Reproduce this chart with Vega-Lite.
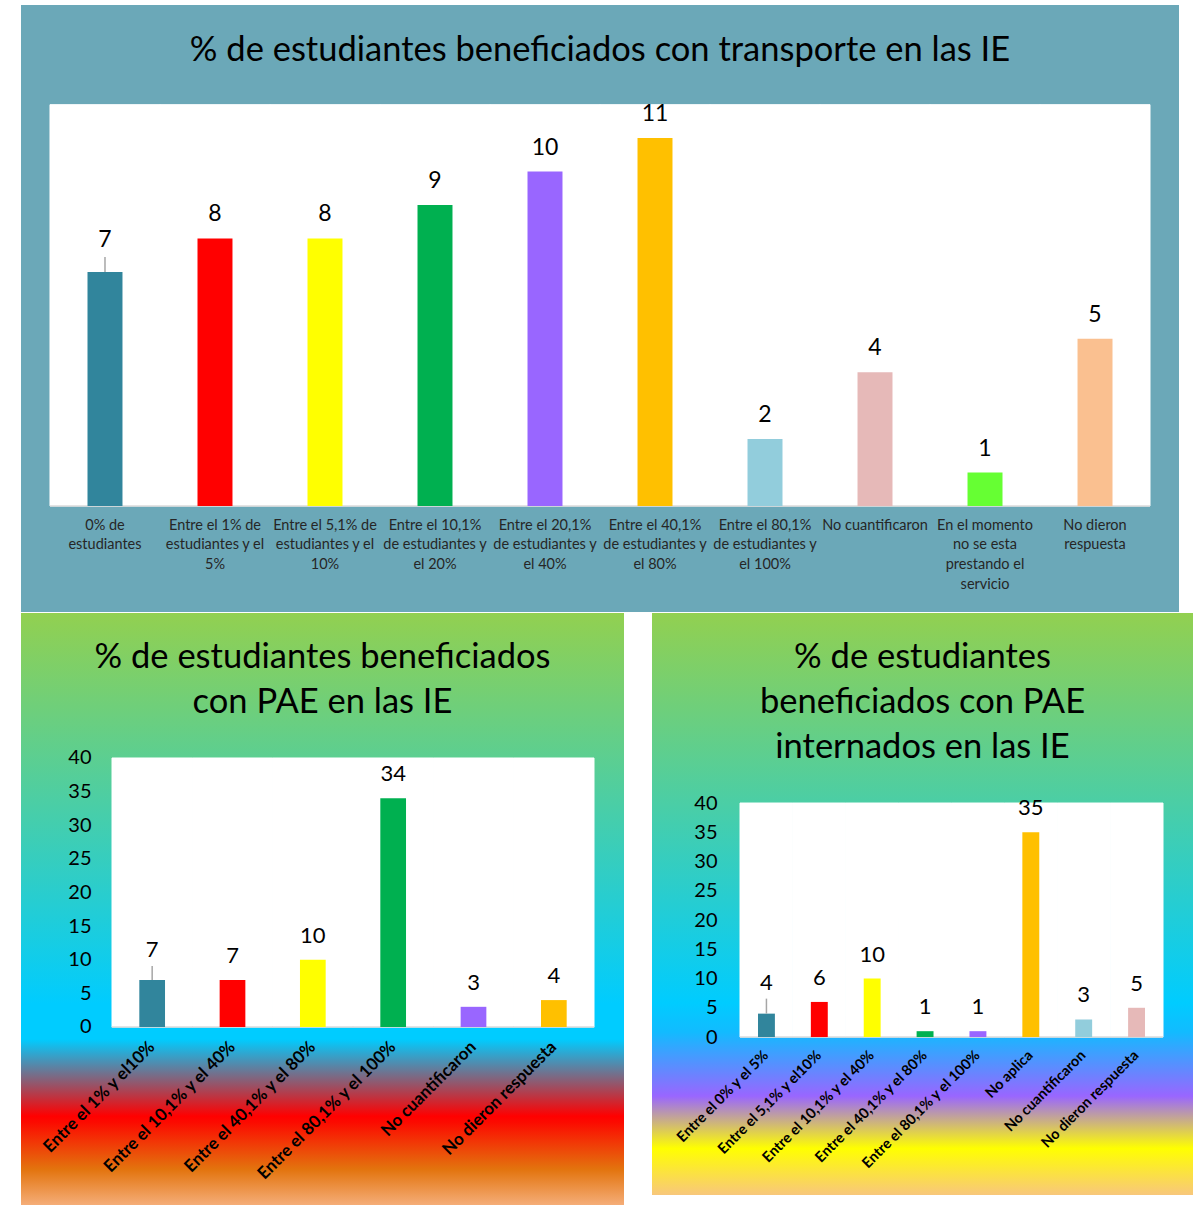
{
  "$schema": "https://vega.github.io/schema/vega-lite/v6.json",
  "background": "white",
  "padding": {"left": 21, "top": 5, "right": 0, "bottom": 0},
  "autosize": {"type": "pad"},
  "config": {"view": {"stroke": null}, "text": {"font": "Lato"}, "title": {"font": "Lato"}},
  "spacing": 1,
  "resolve": {"scale": {"x": "independent", "y": "independent", "color": "independent"}},
  "vconcat": [
    {
      "width": 1158,
      "height": 607,
      "view": {"fill": "#6ba8b8", "stroke": null},
      "title": {"text": "% de estudiantes beneficiados con transporte en las IE", "fontSize": 34.5, "fontWeight": "normal", "color": "black", "anchor": "middle", "frame": "group", "baseline": "alphabetic", "offset": -90},
      "data": {"values": [
        {"cat": "0% de estudiantes", "v": 7},
        {"cat": "Entre el 1% de estudiantes y el 5%", "v": 8},
        {"cat": "Entre el 5,1% de estudiantes y el 10%", "v": 8},
        {"cat": "Entre el 10,1% de estudiantes y el 20%", "v": 9},
        {"cat": "Entre el 20,1% de estudiantes y el 40%", "v": 10},
        {"cat": "Entre el 40,1% de estudiantes y el 80%", "v": 11},
        {"cat": "Entre el 80,1% de estudiantes y el 100%", "v": 2},
        {"cat": "No cuantificaron", "v": 4},
        {"cat": "En el momento no se esta prestando el servicio", "v": 1},
        {"cat": "No dieron respuesta", "v": 5}
      ]},
      "encoding": {
        "x": {"field": "cat", "type": "nominal",
          "scale": {"domain": ["0% de estudiantes", "Entre el 1% de estudiantes y el 5%", "Entre el 5,1% de estudiantes y el 10%", "Entre el 10,1% de estudiantes y el 20%", "Entre el 20,1% de estudiantes y el 40%", "Entre el 40,1% de estudiantes y el 80%", "Entre el 80,1% de estudiantes y el 100%", "No cuantificaron", "En el momento no se esta prestando el servicio", "No dieron respuesta"], "paddingInner": 0.682, "paddingOuter": 0.6045, "align": 0.5},
          "axis": {"title": null, "orient": "bottom", "offset": -106, "zindex": 1, "domain": false, "ticks": false, "grid": false, "labelAngle": 0, "labelAlign": "center", "labelBaseline": "top", "labelPadding": 12, "labelFont": "Lato", "labelFontSize": 14.5, "labelColor": "#262626", "labelLineHeight": 19.7, "labelLimit": 0, "labelOverlap": false,
            "labelExpr": "{'0% de estudiantes': ['0% de', 'estudiantes'], 'Entre el 1% de estudiantes y el 5%': ['Entre el 1% de', 'estudiantes y el', '5%'], 'Entre el 5,1% de estudiantes y el 10%': ['Entre el 5,1% de', 'estudiantes y el', '10%'], 'Entre el 10,1% de estudiantes y el 20%': ['Entre el 10,1%', 'de estudiantes y', 'el 20%'], 'Entre el 20,1% de estudiantes y el 40%': ['Entre el 20,1%', 'de estudiantes y', 'el 40%'], 'Entre el 40,1% de estudiantes y el 80%': ['Entre el 40,1%', 'de estudiantes y', 'el 80%'], 'Entre el 80,1% de estudiantes y el 100%': ['Entre el 80,1%', 'de estudiantes y', 'el 100%'], 'No cuantificaron': ['No cuantificaron'], 'En el momento no se esta prestando el servicio': ['En el momento', 'no se esta', 'prestando el', 'servicio'], 'No dieron respuesta': ['No dieron', 'respuesta']}[datum.label]"}},
        "y": {"field": "v", "type": "quantitative", "scale": {"domain": [-3.17, 14.98], "nice": false, "zero": false}, "axis": null}
      },
      "layer": [
        {
          "mark": {"type": "bar", "color": "white", "stroke": "white", "strokeWidth": 1, "width": {"band": 3.1447}},
          "encoding": {"y": {"datum": 0, "type": "quantitative"}, "y2": {"datum": 12}}
        },
        {
          "mark": {"type": "tick", "orient": "horizontal", "color": "#d9d9d9", "thickness": 2, "size": 110},
          "encoding": {"y": {"datum": 0, "type": "quantitative"}}
        },
        {
          "mark": {"type": "bar"},
          "encoding": {
            "color": {"field": "cat", "type": "nominal", "legend": null,
              "scale": {"domain": ["0% de estudiantes", "Entre el 1% de estudiantes y el 5%", "Entre el 5,1% de estudiantes y el 10%", "Entre el 10,1% de estudiantes y el 20%", "Entre el 20,1% de estudiantes y el 40%", "Entre el 40,1% de estudiantes y el 80%", "Entre el 80,1% de estudiantes y el 100%", "No cuantificaron", "En el momento no se esta prestando el servicio", "No dieron respuesta"],
                "range": ["#31859c", "#ff0000", "#ffff00", "#00b050", "#9966ff", "#ffc000", "#92cddc", "#e6b9b8", "#66ff33", "#fac090"]}}
          }
        },
        {
          "transform": [{"filter": "datum.cat == '0% de estudiantes'"}],
          "mark": {"type": "rule", "color": "#a6a6a6", "strokeWidth": 1.5, "y2Offset": -15},
          "encoding": {"y2": {"field": "v"}}
        },
        {
          "transform": [{"filter": "datum.cat == '0% de estudiantes'"}],
          "mark": {"type": "text", "baseline": "alphabetic", "dy": -25, "fontSize": 23, "color": "black"},
          "encoding": {"text": {"field": "v", "type": "quantitative"}}
        },
        {
          "transform": [{"filter": "datum.cat != '0% de estudiantes'"}],
          "mark": {"type": "text", "baseline": "alphabetic", "dy": -17, "fontSize": 23, "color": "black"},
          "encoding": {"text": {"field": "v", "type": "quantitative"}}
        }
      ]
    },
    {
      "spacing": 28,
      "resolve": {"scale": {"x": "independent", "y": "independent", "color": "independent"}},
      "hconcat": [
        {
          "width": 603,
          "height": 592,
          "view": {"stroke": null, "fill": {"gradient": "linear", "x1": 0, "y1": 0, "x2": 0, "y2": 1, "stops": [
            {"offset": 0, "color": "#92d050"},
            {"offset": 0.66, "color": "#00ccff"},
            {"offset": 0.72, "color": "#00ccff"},
            {"offset": 0.85, "color": "#ff0000"},
            {"offset": 0.86, "color": "#fc0a00"},
            {"offset": 0.94, "color": "#e3740e"},
            {"offset": 1, "color": "#f5ad78"}
          ]}},
          "title": {"text": ["% de estudiantes beneficiados", "con PAE en las IE"], "fontSize": 34.5, "fontWeight": "normal", "color": "black", "anchor": "middle", "frame": "group", "baseline": "alphabetic", "lineHeight": 45, "offset": -134},
          "data": {"values": [
            {"cat": "Entre el 1%  y el10%", "v": 7},
            {"cat": "Entre el 10,1%  y el 40%", "v": 7},
            {"cat": "Entre el 40,1%  y el 80%", "v": 10},
            {"cat": "Entre el 80,1%  y el 100%", "v": 34},
            {"cat": "No cuantificaron", "v": 3},
            {"cat": "No dieron respuesta", "v": 4}
          ]},
          "encoding": {
            "x": {"field": "cat", "type": "nominal",
              "scale": {"domain": ["Entre el 1%  y el10%", "Entre el 10,1%  y el 40%", "Entre el 40,1%  y el 80%", "Entre el 80,1%  y el 100%", "No cuantificaron", "No dieron respuesta"], "range": [91, 573], "paddingInner": 0.68, "paddingOuter": 0.34},
              "axis": {"title": null, "orient": "bottom", "offset": -178, "zindex": 1, "domain": false, "ticks": false, "grid": false, "labelAngle": -45, "labelAlign": "right", "labelBaseline": "middle", "labelPadding": 17, "labelFont": "Lato", "labelFontSize": 17, "labelFontWeight": "bold", "labelColor": "black", "labelLimit": 0, "labelOverlap": false}},
            "y": {"field": "v", "type": "quantitative", "scale": {"domain": [-26.47, 61.56], "nice": false, "zero": false},
              "axis": {"title": null, "offset": -91, "zindex": 1, "values": [0, 5, 10, 15, 20, 25, 30, 35, 40], "domain": false, "ticks": false, "grid": false, "labelPadding": 21, "labelFont": "Lato", "labelFontSize": 20, "labelColor": "black", "labelOverlap": false, "labelFlush": false}}
          },
          "layer": [
            {
              "mark": {"type": "bar", "color": "white", "stroke": "white", "strokeWidth": 1, "width": {"band": 3.125}},
              "encoding": {"y": {"datum": 0, "type": "quantitative"}, "y2": {"datum": 40}}
            },
            {
              "mark": {"type": "tick", "orient": "horizontal", "color": "#d9d9d9", "thickness": 2, "size": 81},
              "encoding": {"y": {"datum": 0, "type": "quantitative"}}
            },
            {
              "mark": {"type": "bar"},
              "encoding": {
                "color": {"field": "cat", "type": "nominal", "legend": null,
                  "scale": {"domain": ["Entre el 1%  y el10%", "Entre el 10,1%  y el 40%", "Entre el 40,1%  y el 80%", "Entre el 80,1%  y el 100%", "No cuantificaron", "No dieron respuesta"],
                    "range": ["#31859c", "#ff0000", "#ffff00", "#00b050", "#9966ff", "#ffc000"]}}
              }
            },
            {
              "transform": [{"filter": "datum.cat == 'Entre el 1%  y el10%'"}],
              "mark": {"type": "rule", "color": "#a6a6a6", "strokeWidth": 1.5, "y2Offset": -14},
              "encoding": {"y2": {"field": "v"}}
            },
            {
              "transform": [{"filter": "datum.cat == 'Entre el 1%  y el10%'"}],
              "mark": {"type": "text", "baseline": "alphabetic", "dy": -23, "fontSize": 22, "color": "black"},
              "encoding": {"text": {"field": "v", "type": "quantitative"}}
            },
            {
              "transform": [{"filter": "datum.cat != 'Entre el 1%  y el10%'"}],
              "mark": {"type": "text", "baseline": "alphabetic", "dy": -17, "fontSize": 22, "color": "black"},
              "encoding": {"text": {"field": "v", "type": "quantitative"}}
            }
          ]
        },
        {
          "width": 541,
          "height": 582,
          "view": {"stroke": null, "fill": {"gradient": "linear", "x1": 0, "y1": 0, "x2": 0, "y2": 1, "stops": [
            {"offset": 0, "color": "#92d050"},
            {"offset": 0.67, "color": "#00ccff"},
            {"offset": 0.72, "color": "#12bbff"},
            {"offset": 0.83, "color": "#9966ff"},
            {"offset": 0.92, "color": "#ffff00"},
            {"offset": 1, "color": "#f8c77c"}
          ]}},
          "title": {"text": ["% de estudiantes", "beneficiados con PAE", "internados en las IE"], "fontSize": 34.5, "fontWeight": "normal", "color": "black", "anchor": "middle", "frame": "group", "baseline": "alphabetic", "lineHeight": 45, "offset": -179},
          "data": {"values": [
            {"cat": "Entre el 0%  y el 5%", "v": 4},
            {"cat": "Entre el 5,1%  y el10%", "v": 6},
            {"cat": "Entre el 10,1%  y el 40%", "v": 10},
            {"cat": "Entre el 40,1%  y el 80%", "v": 1},
            {"cat": "Entre el 80,1%  y el 100%", "v": 1},
            {"cat": "No aplica", "v": 35},
            {"cat": "No cuantificaron", "v": 3},
            {"cat": "No dieron respuesta", "v": 5}
          ]},
          "encoding": {
            "x": {"field": "cat", "type": "nominal",
              "scale": {"domain": ["Entre el 0%  y el 5%", "Entre el 5,1%  y el10%", "Entre el 10,1%  y el 40%", "Entre el 40,1%  y el 80%", "Entre el 80,1%  y el 100%", "No aplica", "No cuantificaron", "No dieron respuesta"], "range": [88, 511], "paddingInner": 0.68, "paddingOuter": 0.34},
              "axis": {"title": null, "orient": "bottom", "offset": -158, "zindex": 1, "domain": false, "ticks": false, "grid": false, "labelAngle": -45, "labelAlign": "right", "labelBaseline": "middle", "labelPadding": 16, "labelFont": "Lato", "labelFontSize": 14.5, "labelFontWeight": "bold", "labelColor": "black", "labelLimit": 0, "labelOverlap": false}},
            "y": {"field": "v", "type": "quantitative", "scale": {"domain": [-27.0, 72.48], "nice": false, "zero": false},
              "axis": {"title": null, "offset": -88, "zindex": 1, "values": [0, 5, 10, 15, 20, 25, 30, 35, 40], "domain": false, "ticks": false, "grid": false, "labelPadding": 23, "labelFont": "Lato", "labelFontSize": 20, "labelColor": "black", "labelOverlap": false, "labelFlush": false}}
          },
          "layer": [
            {
              "mark": {"type": "bar", "color": "white", "stroke": "white", "strokeWidth": 1, "width": {"band": 3.125}},
              "encoding": {"y": {"datum": 0, "type": "quantitative"}, "y2": {"datum": 40}}
            },
            {
              "mark": {"type": "tick", "orient": "horizontal", "color": "#d9d9d9", "thickness": 2, "size": 53},
              "encoding": {"y": {"datum": 0, "type": "quantitative"}}
            },
            {
              "mark": {"type": "bar"},
              "encoding": {
                "color": {"field": "cat", "type": "nominal", "legend": null,
                  "scale": {"domain": ["Entre el 0%  y el 5%", "Entre el 5,1%  y el10%", "Entre el 10,1%  y el 40%", "Entre el 40,1%  y el 80%", "Entre el 80,1%  y el 100%", "No aplica", "No cuantificaron", "No dieron respuesta"],
                    "range": ["#31859c", "#ff0000", "#ffff00", "#00b050", "#9966ff", "#ffc000", "#92cddc", "#e6b9b8"]}}
              }
            },
            {
              "transform": [{"filter": "datum.cat == 'Entre el 0%  y el 5%'"}],
              "mark": {"type": "rule", "color": "#a6a6a6", "strokeWidth": 1.5, "y2Offset": -15},
              "encoding": {"y2": {"field": "v"}}
            },
            {
              "transform": [{"filter": "datum.cat == 'Entre el 0%  y el 5%'"}],
              "mark": {"type": "text", "baseline": "alphabetic", "dy": -24, "fontSize": 22, "color": "black"},
              "encoding": {"text": {"field": "v", "type": "quantitative"}}
            },
            {
              "transform": [{"filter": "datum.cat != 'Entre el 0%  y el 5%'"}],
              "mark": {"type": "text", "baseline": "alphabetic", "dy": -17, "fontSize": 22, "color": "black"},
              "encoding": {"text": {"field": "v", "type": "quantitative"}}
            }
          ]
        }
      ]
    }
  ]
}
